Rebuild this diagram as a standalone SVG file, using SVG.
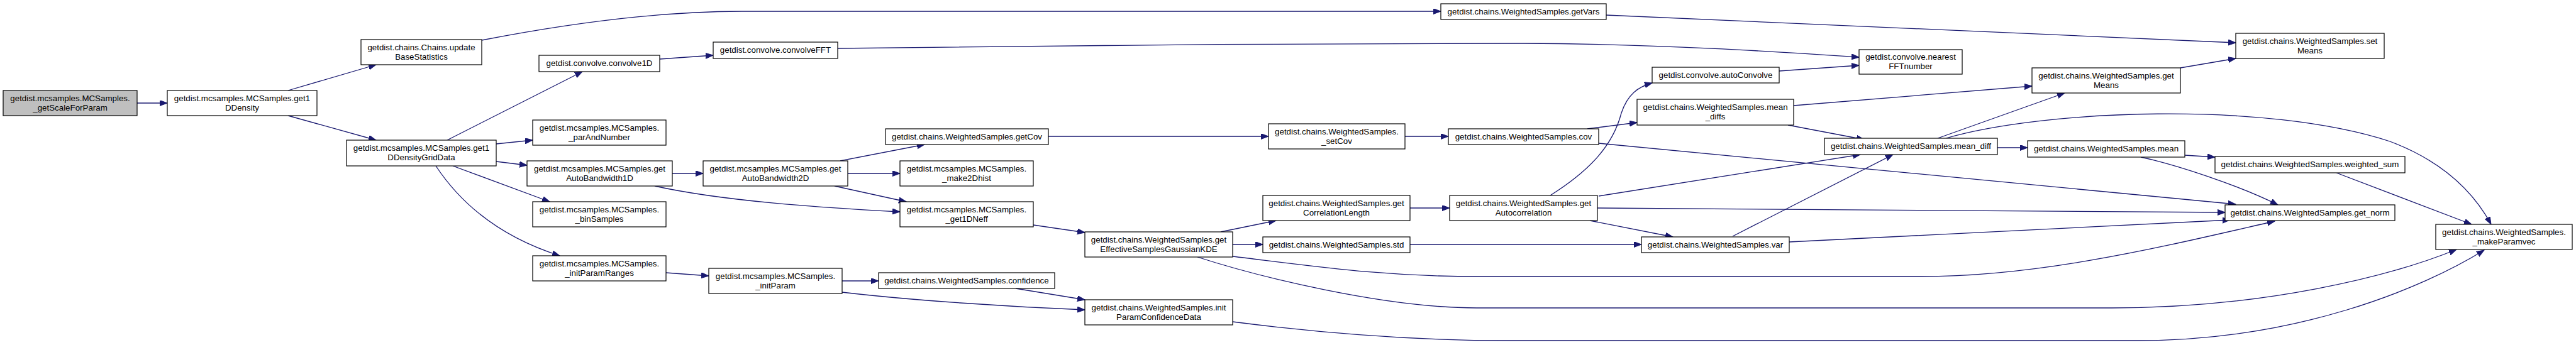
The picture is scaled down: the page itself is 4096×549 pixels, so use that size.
<svg xmlns="http://www.w3.org/2000/svg" width="4096" height="549" viewBox="0 0 4096 549">
<style>
rect{fill:#fff;stroke:#000;stroke-width:1.2}
.root rect{fill:#bfbfbf}
text{font-family:"Liberation Sans",Arial,sans-serif;font-size:13.33px;text-anchor:middle;fill:#000}
#edges path{fill:none;stroke:#191970;stroke-width:1.3;marker-end:url(#ah)}
</style>
<defs>
<marker id="ah" markerUnits="userSpaceOnUse" markerWidth="13" markerHeight="10" refX="12" refY="4.5" orient="auto">
<path d="M0,0 L12,4.5 L0,9 z" fill="#191970" stroke="#191970" stroke-width="1"/>
</marker>
</defs>
<rect x="0" y="0" width="4096" height="549" style="fill:#fff;stroke:none"/>
<g id="edges">
<path d="M218,164 L266,164"/>
<path d="M458,144 L598,103"/>
<path d="M458,184 L598,223"/>
<path d="M766,64 C900,38 1050,18 1180,18 L2291,18"/>
<path d="M711,223 L926,114"/>
<path d="M1049,94 L1134,88"/>
<path d="M1332,77 C1600,72 2100,69 2423,69 C2650,70 2850,84 2956,91"/>
<path d="M789,229 L847,223"/>
<path d="M789,257 L838,263"/>
<path d="M720,264 L874,321"/>
<path d="M693,264 C730,320 790,375 890,407"/>
<path d="M1069,276 L1118,276"/>
<path d="M1041,296 C1150,320 1300,330 1431,337"/>
<path d="M1336,256 L1470,230"/>
<path d="M1348,276 L1431,276"/>
<path d="M1327,296 L1441,321"/>
<path d="M1059,434 L1127,439"/>
<path d="M1667,217 L2017,217"/>
<path d="M1643,358 L1725,370"/>
<path d="M1339,447 L1397,447"/>
<path d="M1339,465 C1450,478 1600,488 1725,493"/>
<path d="M1615,459 L1725,477"/>
<path d="M1941,369 L2029,351"/>
<path d="M1960,389 L2008,389"/>
<path d="M1960,408 C2100,425 2200,440 2350,440 L3054,440 C3250,440 3450,390 3617,352"/>
<path d="M1904,409 C2000,440 2200,490 2348,490 L3358,490 C3600,490 3800,440 3906,397"/>
<path d="M1960,512 C2100,530 2250,542 2400,542 L3400,542 C3650,542 3850,460 3950,398"/>
<path d="M2234,217 L2303,217"/>
<path d="M2242,331 L2305,331"/>
<path d="M2242,389 L2610,389"/>
<path d="M2465,311 C2530,270 2565,230 2578,180 C2588,150 2605,138 2627,132"/>
<path d="M2542,312 L2958,246"/>
<path d="M2540,331 L3538,338"/>
<path d="M2528,351 L2660,377"/>
<path d="M2554,24 L3555,68"/>
<path d="M2524,205 L2603,195"/>
<path d="M2542,228 L3555,325"/>
<path d="M2829,113 L2956,104"/>
<path d="M2852,168 L3231,137"/>
<path d="M2843,199 L2964,222"/>
<path d="M3081,220 L3283,148"/>
<path d="M3094,220 C3250,175 3600,160 3800,225 C3880,255 3930,300 3961,357"/>
<path d="M3176,235 L3224,235"/>
<path d="M2755,376 L3010,246"/>
<path d="M2845,385 L3546,350"/>
<path d="M3467,108 L3555,93"/>
<path d="M3474,247 L3522,250"/>
<path d="M3404,250 C3460,262 3560,295 3622,326"/>
<path d="M3715,275 L3930,357"/>
</g>
<g id="n_getScaleForParam" class="root"><rect x="5" y="144" width="213" height="40"/><text x="111.5" y="160.5">getdist.mcsamples.MCSamples.</text><text x="111.5" y="175.5">_getScaleForParam</text></g>
<g id="n_get1DDensity"><rect x="266" y="144" width="238" height="40"/><text x="385" y="160.5">getdist.mcsamples.MCSamples.get1</text><text x="385" y="175.5">DDensity</text></g>
<g id="n_updateBaseStatistics"><rect x="574" y="63" width="192" height="40"/><text x="670" y="79.5">getdist.chains.Chains.update</text><text x="670" y="94.5">BaseStatistics</text></g>
<g id="n_get1DDensityGridData"><rect x="551" y="223" width="238" height="41"/><text x="670" y="239.5">getdist.mcsamples.MCSamples.get1</text><text x="670" y="254.5">DDensityGridData</text></g>
<g id="n_convolve1D"><rect x="857" y="88" width="192" height="26"/><text x="953" y="105">getdist.convolve.convolve1D</text></g>
<g id="n_convolveFFT"><rect x="1134" y="67" width="198" height="26"/><text x="1233" y="84">getdist.convolve.convolveFFT</text></g>
<g id="n_parAndNumber"><rect x="847" y="191" width="212" height="40"/><text x="953" y="207.5">getdist.mcsamples.MCSamples.</text><text x="953" y="222.5">_parAndNumber</text></g>
<g id="n_getAutoBandwidth1D"><rect x="838" y="256" width="231" height="40"/><text x="953.5" y="272.5">getdist.mcsamples.MCSamples.get</text><text x="953.5" y="287.5">AutoBandwidth1D</text></g>
<g id="n_getAutoBandwidth2D"><rect x="1118" y="256" width="230" height="40"/><text x="1233" y="272.5">getdist.mcsamples.MCSamples.get</text><text x="1233" y="287.5">AutoBandwidth2D</text></g>
<g id="n_binSamples"><rect x="847" y="321" width="212" height="40"/><text x="953" y="337.5">getdist.mcsamples.MCSamples.</text><text x="953" y="352.5">_binSamples</text></g>
<g id="n_initParamRanges"><rect x="847" y="407" width="212" height="40"/><text x="953" y="423.5">getdist.mcsamples.MCSamples.</text><text x="953" y="438.5">_initParamRanges</text></g>
<g id="n_initParam"><rect x="1127" y="427" width="212" height="40"/><text x="1233" y="443.5">getdist.mcsamples.MCSamples.</text><text x="1233" y="458.5">_initParam</text></g>
<g id="n_getCov"><rect x="1408" y="205" width="259" height="25"/><text x="1537.5" y="222">getdist.chains.WeightedSamples.getCov</text></g>
<g id="n_make2Dhist"><rect x="1431" y="256" width="212" height="40"/><text x="1537" y="272.5">getdist.mcsamples.MCSamples.</text><text x="1537" y="287.5">_make2Dhist</text></g>
<g id="n_get1DNeff"><rect x="1431" y="321" width="212" height="40"/><text x="1537" y="337.5">getdist.mcsamples.MCSamples.</text><text x="1537" y="352.5">_get1DNeff</text></g>
<g id="n_setCov"><rect x="2017" y="197" width="217" height="40"/><text x="2125.5" y="213.5">getdist.chains.WeightedSamples.</text><text x="2125.5" y="228.5">_setCov</text></g>
<g id="n_getESGKDE"><rect x="1725" y="369" width="235" height="40"/><text x="1842.5" y="385.5">getdist.chains.WeightedSamples.get</text><text x="1842.5" y="400.5">EffectiveSamplesGaussianKDE</text></g>
<g id="n_confidence"><rect x="1397" y="434" width="280" height="25"/><text x="1537" y="451">getdist.chains.WeightedSamples.confidence</text></g>
<g id="n_initParamConfidenceData"><rect x="1725" y="477" width="235" height="40"/><text x="1842.5" y="493.5">getdist.chains.WeightedSamples.init</text><text x="1842.5" y="508.5">ParamConfidenceData</text></g>
<g id="n_getCorrelationLength"><rect x="2008" y="311" width="234" height="40"/><text x="2125" y="327.5">getdist.chains.WeightedSamples.get</text><text x="2125" y="342.5">CorrelationLength</text></g>
<g id="n_std"><rect x="2008" y="377" width="234" height="25"/><text x="2125" y="394">getdist.chains.WeightedSamples.std</text></g>
<g id="n_getVars"><rect x="2291" y="6" width="263" height="25"/><text x="2422.5" y="23">getdist.chains.WeightedSamples.getVars</text></g>
<g id="n_cov"><rect x="2303" y="205" width="239" height="25"/><text x="2422.5" y="222">getdist.chains.WeightedSamples.cov</text></g>
<g id="n_getAutocorrelation"><rect x="2305" y="311" width="235" height="40"/><text x="2422.5" y="327.5">getdist.chains.WeightedSamples.get</text><text x="2422.5" y="342.5">Autocorrelation</text></g>
<g id="n_var"><rect x="2610" y="377" width="235" height="25"/><text x="2727.5" y="394">getdist.chains.WeightedSamples.var</text></g>
<g id="n_autoConvolve"><rect x="2627" y="107" width="202" height="25"/><text x="2728" y="124">getdist.convolve.autoConvolve</text></g>
<g id="n_mean_diffs"><rect x="2603" y="158" width="249" height="41"/><text x="2727.5" y="174.5">getdist.chains.WeightedSamples.mean</text><text x="2727.5" y="189.5">_diffs</text></g>
<g id="n_nearestFFTnumber"><rect x="2956" y="79" width="164" height="39"/><text x="3038" y="95">getdist.convolve.nearest</text><text x="3038" y="110">FFTnumber</text></g>
<g id="n_getMeans"><rect x="3231" y="108" width="236" height="40"/><text x="3349" y="124.5">getdist.chains.WeightedSamples.get</text><text x="3349" y="139.5">Means</text></g>
<g id="n_mean_diff"><rect x="2901" y="220" width="275" height="26"/><text x="3038.5" y="237">getdist.chains.WeightedSamples.mean_diff</text></g>
<g id="n_mean"><rect x="3224" y="224" width="250" height="26"/><text x="3349" y="241">getdist.chains.WeightedSamples.mean</text></g>
<g id="n_setMeans"><rect x="3555" y="53" width="236" height="40"/><text x="3673" y="69.5">getdist.chains.WeightedSamples.set</text><text x="3673" y="84.5">Means</text></g>
<g id="n_weighted_sum"><rect x="3522" y="249" width="302" height="26"/><text x="3673" y="266">getdist.chains.WeightedSamples.weighted_sum</text></g>
<g id="n_get_norm"><rect x="3538" y="326" width="270" height="25"/><text x="3673" y="343">getdist.chains.WeightedSamples.get_norm</text></g>
<g id="n_makeParamvec"><rect x="3873" y="357" width="217" height="40"/><text x="3981.5" y="373.5">getdist.chains.WeightedSamples.</text><text x="3981.5" y="388.5">_makeParamvec</text></g>
</svg>
